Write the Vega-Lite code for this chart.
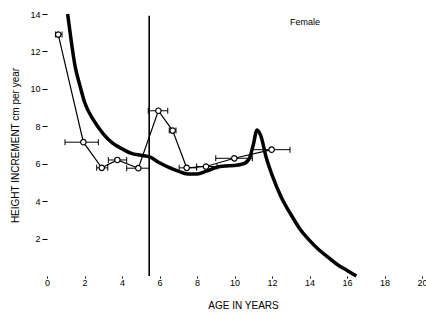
{
  "$schema": "https://vega.github.io/schema/vega-lite/v6.json",
  "width": 375,
  "height": 262,
  "autosize": {"type": "none"},
  "padding": {"left": 47, "top": 14, "right": 4, "bottom": 40},
  "background": "white",
  "config": {
    "view": {"stroke": null},
    "font": "Liberation Sans",
    "axis": {"domain": false, "grid": false, "tickColor": "black", "labelColor": "black", "titleColor": "black", "labelFont": "Liberation Sans", "titleFont": "Liberation Sans", "titleFontWeight": "normal"},
    "axisX": {"labelOverlap": false, "labelFlush": false, "labelBound": false}
  },
  "datasets": {
    "obs": [
      {"age": 0.6, "inc": 12.9, "lo": 0.45, "hi": 0.8},
      {"age": 1.94, "inc": 7.15, "lo": 0.96, "hi": 2.74},
      {"age": 2.92, "inc": 5.78, "lo": 2.65, "hi": 3.24},
      {"age": 3.75, "inc": 6.2, "lo": 3.27, "hi": 4.25},
      {"age": 4.87, "inc": 5.76, "lo": 4.25, "hi": 5.46},
      {"age": 5.94, "inc": 8.83, "lo": 5.4, "hi": 6.44},
      {"age": 6.7, "inc": 7.77, "lo": 6.52, "hi": 6.88},
      {"age": 7.45, "inc": 5.78, "lo": 7.05, "hi": 7.98},
      {"age": 8.48, "inc": 5.85, "lo": 7.98, "hi": 9.07},
      {"age": 9.99, "inc": 6.29, "lo": 9.0, "hi": 10.95},
      {"age": 11.98, "inc": 6.75, "lo": 10.95, "hi": 12.96}
    ],
    "curve": [
      {"age": 1.1, "inc": 14.0},
      {"age": 1.3, "inc": 12.5},
      {"age": 1.5, "inc": 11.2},
      {"age": 1.75, "inc": 10.2},
      {"age": 2.0, "inc": 9.3},
      {"age": 2.5, "inc": 8.3},
      {"age": 3.0, "inc": 7.6},
      {"age": 3.5, "inc": 7.1},
      {"age": 4.0, "inc": 6.8},
      {"age": 4.5, "inc": 6.55},
      {"age": 5.0, "inc": 6.45},
      {"age": 5.5, "inc": 6.35},
      {"age": 6.0, "inc": 6.05},
      {"age": 6.5, "inc": 5.8},
      {"age": 7.0, "inc": 5.6},
      {"age": 7.5, "inc": 5.45},
      {"age": 8.0, "inc": 5.45},
      {"age": 8.5, "inc": 5.6},
      {"age": 9.0, "inc": 5.8},
      {"age": 9.5, "inc": 5.88},
      {"age": 10.0, "inc": 5.9},
      {"age": 10.5, "inc": 6.0},
      {"age": 10.8, "inc": 6.3},
      {"age": 11.0, "inc": 7.0},
      {"age": 11.2, "inc": 7.8},
      {"age": 11.4, "inc": 7.5},
      {"age": 11.7, "inc": 6.3},
      {"age": 12.0, "inc": 5.4},
      {"age": 12.5, "inc": 4.2},
      {"age": 13.0, "inc": 3.3},
      {"age": 13.5, "inc": 2.5},
      {"age": 14.0, "inc": 1.9},
      {"age": 14.5, "inc": 1.4},
      {"age": 15.0, "inc": 1.0},
      {"age": 15.5, "inc": 0.6},
      {"age": 16.0, "inc": 0.3},
      {"age": 16.5, "inc": 0.0}
    ],
    "vline": [{"age": 5.45, "y0": 0, "y1": 13.9}],
    "label": [{"age": 13.76, "inc": 13.57, "text": "Female"}]
  },
  "layer": [
    {
      "data": {"name": "vline"},
      "mark": {"type": "rule", "color": "black", "strokeWidth": 1.6},
      "encoding": {
        "x": {"field": "age", "type": "quantitative", "scale": {"domain": [0, 20], "nice": false},
          "axis": {"values": [0, 2, 4, 6, 8, 10, 12, 14, 16, 18, 20], "tickCount": 11, "labelOverlap": false, "labelFontSize": 9, "tickSize": 2, "labelPadding": 0, "title": "AGE   IN   YEARS", "titleFontSize": 10, "titleX": 196, "titleY": 29, "titleBaseline": "middle", "titleAnchor": null}},
        "y": {"field": "y0", "type": "quantitative", "scale": {"domain": [0, 14], "nice": false},
          "axis": {"values": [2, 4, 6, 8, 10, 12, 14], "labelOverlap": false, "labelFontSize": 9, "tickSize": 5, "labelPadding": 2, "title": "HEIGHT   INCREMENT    cm  per  year", "titleFontSize": 10, "titleX": -32, "titleY": 131, "titleAngle": -90, "titleBaseline": "middle", "titleAlign": "center"}},
        "y2": {"field": "y1"}
      }
    },
    {
      "data": {"name": "obs"},
      "mark": {"type": "rule", "color": "black", "strokeWidth": 1},
      "encoding": {
        "x": {"field": "lo", "type": "quantitative"},
        "x2": {"field": "hi"},
        "y": {"field": "inc", "type": "quantitative"}
      }
    },
    {
      "data": {"name": "obs"},
      "mark": {"type": "tick", "color": "black", "orient": "vertical", "thickness": 1, "size": 6, "opacity": 1},
      "encoding": {
        "x": {"field": "lo", "type": "quantitative"},
        "y": {"field": "inc", "type": "quantitative"}
      }
    },
    {
      "data": {"name": "obs"},
      "mark": {"type": "tick", "color": "black", "orient": "vertical", "thickness": 1, "size": 6, "opacity": 1},
      "encoding": {
        "x": {"field": "hi", "type": "quantitative"},
        "y": {"field": "inc", "type": "quantitative"}
      }
    },
    {
      "data": {"name": "obs"},
      "mark": {"type": "line", "color": "black", "strokeWidth": 1.2},
      "encoding": {
        "x": {"field": "age", "type": "quantitative"},
        "y": {"field": "inc", "type": "quantitative"}
      }
    },
    {
      "data": {"name": "curve"},
      "mark": {"type": "line", "color": "black", "strokeWidth": 3.5, "interpolate": "monotone"},
      "encoding": {
        "x": {"field": "age", "type": "quantitative"},
        "y": {"field": "inc", "type": "quantitative"}
      }
    },
    {
      "data": {"name": "obs"},
      "mark": {"type": "point", "shape": "circle", "filled": true, "fill": "white", "stroke": "black", "strokeWidth": 1.2, "size": 30, "opacity": 1},
      "encoding": {
        "x": {"field": "age", "type": "quantitative"},
        "y": {"field": "inc", "type": "quantitative"}
      }
    },
    {
      "data": {"name": "label"},
      "mark": {"type": "text", "fontSize": 9, "color": "black", "font": "Liberation Sans"},
      "encoding": {
        "x": {"field": "age", "type": "quantitative"},
        "y": {"field": "inc", "type": "quantitative"},
        "text": {"field": "text"}
      }
    }
  ]
}
